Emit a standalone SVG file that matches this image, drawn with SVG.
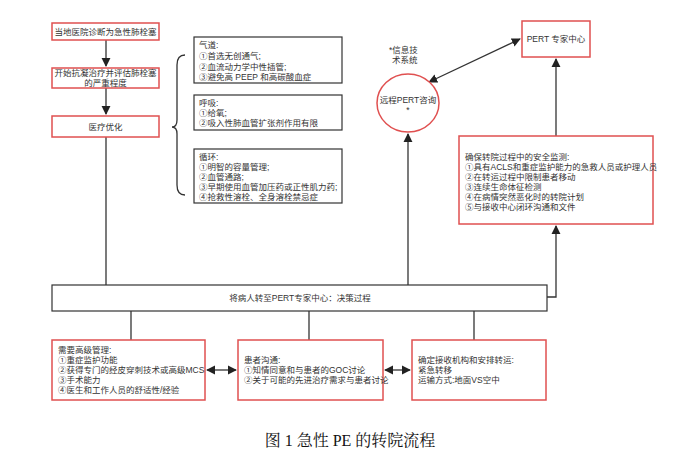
<svg xmlns="http://www.w3.org/2000/svg" width="700" height="466" viewBox="0 0 700 466">
<defs>
<marker id="ah" viewBox="0 0 10 10" refX="9" refY="5" markerWidth="7" markerHeight="7" orient="auto-start-reverse"><path d="M0,0 L10,5 L0,10 z" fill="#222"/></marker>
<style>
text{font-family:"Liberation Sans","Noto Sans CJK SC",sans-serif;font-size:8.5px;fill:#333}
.r{fill:#fff;stroke:#e05050;stroke-width:1.5}
.k{fill:#fff;stroke:#333;stroke-width:1.2}
.c{stroke:#333;stroke-width:1.3;fill:none}
.m{text-anchor:middle}
</style>
</defs>
<rect width="700" height="466" fill="#fff"/>
<g id="connectors">
<line class="c" x1="106" y1="40" x2="106" y2="66" marker-end="url(#ah)"/>
<line class="c" x1="106" y1="88" x2="106" y2="114" marker-end="url(#ah)"/>
<line class="c" x1="106" y1="137" x2="106" y2="285"/>
<line class="c" x1="408" y1="285" x2="408" y2="134" marker-end="url(#ah)"/>
<polyline class="c" points="547,297 556,297 556,226" marker-end="url(#ah)"/>
<line class="c" x1="556" y1="136" x2="556" y2="59" marker-end="url(#ah)"/>
<line class="c" x1="429" y1="82" x2="520" y2="39" marker-start="url(#ah)" marker-end="url(#ah)"/>
<line class="c" x1="131" y1="311" x2="131" y2="340"/>
<line class="c" x1="309" y1="311" x2="309" y2="340"/>
<line class="c" x1="474" y1="311" x2="474" y2="340"/>
<line class="c" x1="207" y1="370" x2="236" y2="370" marker-start="url(#ah)" marker-end="url(#ah)"/>
<line class="c" x1="385" y1="370" x2="410" y2="370" marker-start="url(#ah)" marker-end="url(#ah)"/>
<path class="c" d="M185,55 Q177,55 177,65 L177,120 Q177,127 172,127 Q177,127 177,134 L177,185 Q177,195 185,195"/>
</g>
<g id="n1"><rect class="r" x="52" y="23" width="107" height="17"/><text class="m" x="105.5" y="35">当地医院诊断为急性肺栓塞</text></g>
<g id="n2"><rect class="r" x="52" y="68" width="107" height="20"/><text class="m" x="105.5" y="76">开始抗凝治疗并评估肺栓塞</text><text class="m" x="105.5" y="86">的严重程度</text></g>
<g id="n3"><rect class="r" x="52" y="116" width="107" height="21"/><text class="m" x="105.5" y="130">医疗优化</text></g>
<g id="airway"><rect class="k" x="194" y="37" width="148" height="46"/><text x="199" y="48">气道:</text><text x="199" y="59">①首选无创通气;</text><text x="199" y="70">②血流动力学中性插管;</text><text x="199" y="80">③避免高 PEEP 和高碳酸血症</text></g>
<g id="breath"><rect class="k" x="194" y="95" width="148" height="35"/><text x="199" y="106">呼吸:</text><text x="199" y="116">①给氧;</text><text x="199" y="126">②吸入性肺血管扩张剂作用有限</text></g>
<g id="circ"><rect class="k" x="194" y="149" width="148" height="54"/><text x="199" y="160">循环:</text><text x="199" y="170">①明智的容量管理;</text><text x="199" y="180">②血管通路;</text><text x="199" y="190">③早期使用血管加压药或正性肌力药;</text><text x="199" y="200">④抢救性溶栓、全身溶栓禁忌症</text></g>
<g id="it"><text x="389" y="53">*信息技</text><text x="392" y="63">术系统</text></g>
<g id="remote"><ellipse cx="408" cy="103" rx="31" ry="29" fill="#fff" stroke="#e05050" stroke-width="1.5"/><text class="m" x="408" y="103">远程PERT咨询</text><text class="m" x="408" y="113">*</text></g>
<g id="pert"><rect class="r" x="522" y="21" width="68" height="36"/><text class="m" x="556" y="42">PERT 专家中心</text></g>
<g id="safety"><rect class="r" x="459" y="136" width="194" height="88"/><text x="465" y="160">确保转院过程中的安全监测:</text><text x="465" y="170">①具有ACLS和重症监护能力的急救人员或护理人员</text><text x="465" y="180">②在转运过程中限制患者移动</text><text x="465" y="190">③连续生命体征检测</text><text x="465" y="200">④在病情突然恶化时的转院计划</text><text x="465" y="210">⑤与接收中心闭环沟通和文件</text></g>
<g id="decision"><rect class="k" x="52" y="285" width="495" height="26"/><text class="m" x="300" y="301">将病人转至PERT专家中心：决策过程</text></g>
<g id="adv"><rect class="r" x="52" y="340" width="153" height="60"/><text x="58" y="353">需要高级管理:</text><text x="58" y="363">①重症监护功能</text><text x="58" y="373">②获得专门的经皮穿刺技术或高级MCS</text><text x="58" y="383">③手术能力</text><text x="58" y="393">④医生和工作人员的舒适性/经验</text></g>
<g id="comm"><rect class="r" x="238" y="340" width="145" height="60"/><text x="244" y="363">患者沟通:</text><text x="244" y="373">①知情同意和与患者的GOC讨论</text><text x="244" y="383">②关于可能的先进治疗需求与患者讨论</text></g>
<g id="recv"><rect class="r" x="412" y="340" width="134" height="60"/><text x="418" y="363">确定接收机构和安排转运:</text><text x="418" y="373">紧急转移</text><text x="418" y="383">运输方式:地面VS空中</text></g>
<text x="350" y="446" text-anchor="middle" style="font-family:'Liberation Serif','Noto Serif CJK SC','Noto Sans CJK SC',serif;font-size:16px;fill:#111">图 1 急性 PE 的转院流程</text>
</svg>
